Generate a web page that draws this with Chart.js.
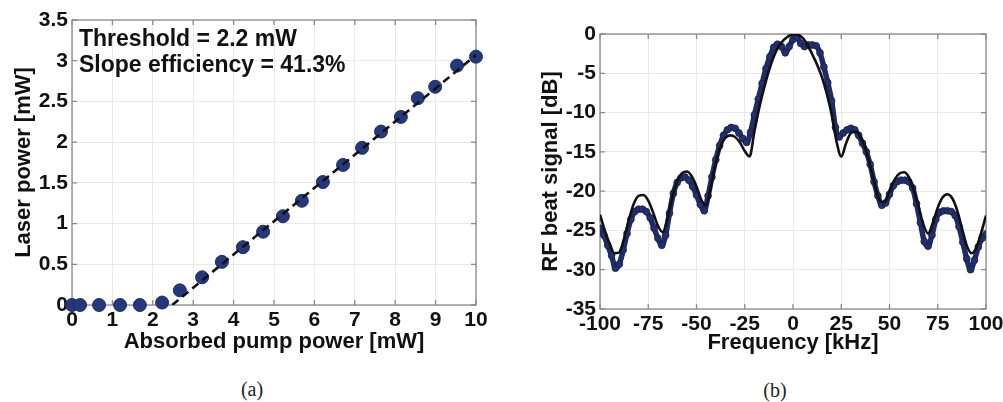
<!DOCTYPE html>
<html>
<head>
<meta charset="utf-8">
<script src="https://cdn.jsdelivr.net/npm/chart.js@4.4.0/dist/chart.umd.min.js"></script>
<style>
  body { margin: 0; background: #fff; width: 1003px; height: 402px; position: relative; overflow: hidden; }
  canvas { position: absolute; }
  #chartA { left: 0; top: 0; }
  #chartB { left: 500px; top: 0; }
  .cap { position: absolute; font-family: "Liberation Serif", "Times New Roman", serif; font-size: 20px; color: #222; transform: translate(-50%, -50%); }
</style>
</head>
<body>
<canvas id="chartA" width="490" height="365"></canvas>
<canvas id="chartB" width="503" height="370"></canvas>
<div class="cap" style="left:252px; top:389px;">(a)</div>
<div class="cap" style="left:775px; top:390px;">(b)</div>
<script>
// (a) laser output vs absorbed pump
const pumpPower = [0, 0.2, 0.67, 1.19, 1.68, 2.23, 2.67, 3.22, 3.71, 4.23, 4.73, 5.22, 5.69, 6.21, 6.71, 7.18, 7.65, 8.14, 8.56, 8.99, 9.53, 10.0];
const laserPower = [0, 0, 0, 0, 0, 0.03, 0.18, 0.34, 0.53, 0.71, 0.90, 1.09, 1.28, 1.51, 1.72, 1.93, 2.13, 2.31, 2.54, 2.68, 2.94, 3.05];
const fitPump = [2.48, 10];
const fitLaser = [0, 3.07];
const xTicksA = [0, 1, 2, 3, 4, 5, 6, 7, 8, 9, 10];
const yTicksA = [0, 0.5, 1, 1.5, 2, 2.5, 3, 3.5];
const notesA = ['Threshold = 2.2 mW', 'Slope efficiency = 41.3%'];

// (b) RF beat spectrum
const freqMeas = [-100, -98, -96, -94, -92, -90, -88, -86, -84, -82, -80, -78, -76, -74, -72, -70, -68, -66, -64, -62,
  -60, -58, -56, -54, -52, -50, -48, -46, -44, -42, -40, -38, -36, -34, -32, -30, -28, -26, -24, -22,
  -20, -18, -16, -14, -12, -10, -8, -6, -4, -2, 0, 2, 4, 6, 8, 10, 12, 14, 16, 18,
  20, 22, 24, 26, 28, 30, 32, 34, 36, 38, 40, 42, 44, 46, 48, 50, 52, 54, 56, 58,
  60, 62, 64, 66, 68, 70, 72, 74, 76, 78, 80, 82, 84, 86, 88, 90, 92, 94, 96, 98, 100];
const dbMeas = [-24.7, -25.6, -26.9, -28.2, -29.8, -29.3, -27.5, -25.4, -23.6, -22.6, -22.3, -22.3, -22.6, -23.4, -24.7, -26.0, -26.9, -25.6, -22.8, -20.3,
  -18.9, -18.3, -18.2, -18.6, -19.4, -20.5, -21.7, -22.5, -20.6, -18.2, -16.0, -14.2, -12.9, -12.2, -11.9, -12.0, -12.6, -13.3, -13.8, -12.5,
  -10.3, -8.3, -6.3, -4.4, -2.9, -1.7, -1.3, -1.6, -2.4, -1.6, -0.7, -0.4, -1.2, -1.6, -1.4, -1.4, -1.5, -2.4, -4.2, -6.2,
  -8.5, -11.9, -13.1, -12.6, -12.2, -12.0, -12.2, -12.9, -13.9, -15.0, -16.6, -18.8, -20.6, -21.8, -21.5, -20.4, -19.3, -18.8, -18.6, -18.6,
  -18.8, -19.6, -21.6, -24.0, -26.4, -27.0, -25.6, -23.6, -22.7, -22.5, -22.5, -22.6, -23.1, -24.5, -26.5, -28.6, -30.0, -28.8, -27.1, -26.0, -25.5];
const freqTheory = [-100, -97.5, -95, -92.5, -90, -87.5, -85, -82.5, -80, -77.5, -75, -72.5, -70, -67.5, -65, -62.5, -60, -57.5, -55, -52.5,
  -50, -47.5, -45, -42.5, -40, -37.5, -35, -32.5, -30, -27.5, -25, -22.5, -20, -17.5, -15, -12.5, -10, -7.5, -5, -2.5,
  0, 2.5, 5, 7.5, 10, 12.5, 15, 17.5, 20, 22.5, 25, 27.5, 30, 32.5, 35, 37.5, 40, 42.5, 45, 47.5,
  50, 52.5, 55, 57.5, 60, 62.5, 65, 67.5, 70, 72.5, 75, 77.5, 80, 82.5, 85, 87.5, 90, 92.5, 95, 97.5, 100];
const dbTheory = [-23.0, -25.0, -26.7, -27.9, -27.8, -26.0, -23.6, -21.6, -20.6, -20.5, -21.2, -22.7, -24.4, -25.2, -23.4, -20.8, -18.7, -17.7, -17.5, -18.1,
  -19.4, -21.1, -21.8, -19.3, -16.4, -14.3, -13.2, -12.9, -13.1, -13.8, -14.9, -15.6, -12.4, -9.4, -6.9, -4.7, -2.9, -1.6, -0.8, -0.3,
  -0.05, -0.1, -0.5, -1.4, -2.6, -3.9, -5.5, -7.6, -10.2, -13.6, -15.6, -13.9, -12.6, -12.4, -13.1, -14.6, -16.8, -19.3, -21.2, -21.4,
  -20.0, -18.6, -17.8, -17.6, -18.2, -19.8, -21.9, -24.2, -25.4, -24.0, -22.1, -20.8, -20.4, -20.9, -22.4, -24.7, -26.9, -27.9, -27.2, -25.3, -23.1];
const xTicksB = [-100, -75, -50, -25, 0, 25, 50, 75, 100];
const yTicksB = [-35, -30, -25, -20, -15, -10, -5, 0];

const FONT = '"Liberation Sans", Arial, Helvetica, sans-serif';
const GRID = '#e9e9e9';
const FRAME = '#8a8a8a';

function pairs(xs, ys) {
  return xs.map((x, i) => ({ x: x, y: ys[i] }));
}

// matlab-like box with inward tick marks
const framePlugin = {
  id: 'frame',
  beforeDatasetsDraw(chart) {
    const { ctx, chartArea: a, scales } = chart;
    ctx.save();
    ctx.strokeStyle = FRAME;
    ctx.lineWidth = 1.3;
    ctx.strokeRect(a.left, a.top, a.right - a.left, a.bottom - a.top);
    ctx.beginPath();
    scales.x.ticks.forEach(t => {
      const px = scales.x.getPixelForValue(t.value);
      ctx.moveTo(px, a.top); ctx.lineTo(px, a.top + 5);
      ctx.moveTo(px, a.bottom); ctx.lineTo(px, a.bottom - 5);
    });
    scales.y.ticks.forEach(t => {
      const py = scales.y.getPixelForValue(t.value);
      ctx.moveTo(a.left, py); ctx.lineTo(a.left + 5, py);
      ctx.moveTo(a.right, py); ctx.lineTo(a.right - 5, py);
    });
    ctx.stroke();
    ctx.restore();
  }
};

const notesPlugin = {
  id: 'notes',
  afterDraw(chart, args, opts) {
    if (!opts.lines) return;
    const { ctx, chartArea: a } = chart;
    ctx.save();
    ctx.fillStyle = '#111';
    ctx.font = 'bold 23px ' + FONT;
    ctx.textBaseline = 'alphabetic';
    opts.lines.forEach((s, i) => ctx.fillText(s, a.left + 7, a.top + 26 + i * 26));
    ctx.restore();
  }
};

function fixAxis(w, h) {
  return function (scale) {
    if (w) scale.width = w;
    if (h) scale.height = h;
    scale.paddingLeft = 0; scale.paddingRight = 0;
    scale.paddingTop = 0; scale.paddingBottom = 0;
  };
}

function axis(min, max, ticks, title, extra) {
  return Object.assign({
    type: 'linear',
    min: min,
    max: max,
    afterBuildTicks: s => { s.ticks = ticks.map(v => ({ value: v })); },
    ticks: {
      color: '#111',
      font: { family: FONT, size: 21, weight: 'bold' },
      padding: 4,
      maxRotation: 0,
      autoSkip: false,
      callback: v => String(v)
    },
    grid: { color: GRID, lineWidth: 1, drawTicks: false },
    border: { display: false },
    title: { display: true, text: title, color: '#111', font: { family: FONT, size: 22, weight: 'bold' } }
  }, extra);
}

new Chart(document.getElementById('chartA'), {
  type: 'scatter',
  data: {
    datasets: [
      {
        label: 'fit',
        data: pairs(fitPump, fitLaser),
        showLine: true,
        borderColor: '#111',
        borderWidth: 2.6,
        borderDash: [8, 5],
        pointRadius: 0
      },
      {
        label: 'measured',
        data: pairs(pumpPower, laserPower),
        pointRadius: 6.5,
        pointBackgroundColor: '#24387c',
        pointBorderColor: '#1d2d68',
        pointBorderWidth: 1,
        clip: false
      }
    ]
  },
  plugins: [framePlugin, notesPlugin],
  options: {
    responsive: false,
    animation: false,
    layout: { padding: { top: 20, right: 14, left: 0, bottom: 0 } },
    plugins: { legend: { display: false }, tooltip: { enabled: false }, notes: { lines: notesA } },
    scales: {
      x: axis(0, 10, xTicksA, 'Absorbed pump power [mW]', { afterFit: fixAxis(0, 60) }),
      y: axis(0, 3.5, yTicksA, 'Laser power [mW]', { afterFit: fixAxis(72, 0) })
    }
  }
});
const chartA = Chart.getChart('chartA');
chartA.options.scales.x.title.padding = { top: 0, bottom: 10 };
chartA.options.scales.x.ticks.padding = 3;
chartA.options.scales.y.title.padding = { top: 11, bottom: 0 };
chartA.update();

new Chart(document.getElementById('chartB'), {
  type: 'scatter',
  data: {
    datasets: [
      {
        label: 'theory',
        data: pairs(freqTheory, dbTheory),
        showLine: true,
        borderColor: '#111',
        borderWidth: 2.6,
        cubicInterpolationMode: 'monotone',
        pointRadius: 0
      },
      {
        label: 'measured',
        data: pairs(freqMeas, dbMeas),
        showLine: true,
        borderColor: '#1f2c66',
        borderWidth: 5.5,
        cubicInterpolationMode: 'monotone',
        pointRadius: 3.4,
        pointBackgroundColor: '#22306e',
        pointBorderColor: '#16204d',
        pointBorderWidth: 0.8
      }
    ]
  },
  plugins: [framePlugin],
  options: {
    responsive: false,
    animation: false,
    layout: { padding: { top: 34, right: 17, left: 0, bottom: 0 } },
    plugins: { legend: { display: false }, tooltip: { enabled: false } },
    scales: {
      x: axis(-100, 100, xTicksB, 'Frequency [kHz]', { afterFit: fixAxis(0, 61) }),
      y: axis(-35, 0, yTicksB, 'RF beat signal [dB]', { afterFit: fixAxis(100, 0) })
    }
  }
});
const chartB = Chart.getChart('chartB');
chartB.options.scales.x.title.padding = { top: 0, bottom: 14 };
chartB.options.scales.x.ticks.padding = 3;
chartB.options.scales.y.title.padding = { top: 38, bottom: 0 };
chartB.update();
</script>
</body>
</html>
